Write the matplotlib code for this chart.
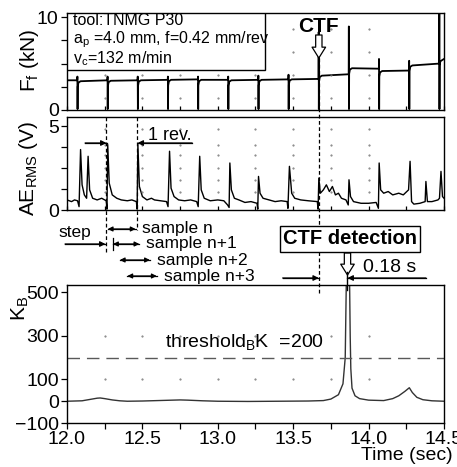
import matplotlib.pyplot as plt
from matplotlib.transforms import blended_transform_factory
from matplotlib.patches import Rectangle

plt.rcParams['font.family'] = ['Liberation Sans', 'DejaVu Sans']
plt.rcParams['mathtext.fontset'] = 'custom'
plt.rcParams['mathtext.rm'] = 'Liberation Sans'
plt.rcParams['mathtext.it'] = 'Liberation Sans:italic'
plt.rcParams['mathtext.bf'] = 'Liberation Sans:bold'

# --- data ---
# revolution marks (s), force level before/after each mark (kN), spike height at the mark
rev_t = [12.07, 12.27, 12.47, 12.67, 12.87, 13.07, 13.27, 13.47, 13.67, 13.87, 14.07, 14.27, 14.47]
seg_start = [3.2, 3.1, 3.15, 3.2, 3.25, 3.25, 3.2, 3.25, 3.3, 3.7, 4.5, 4.2, 4.8, 5.4]
seg_end = [3.2, 3.2, 3.2, 3.25, 3.3, 3.25, 3.25, 3.3, 3.35, 3.85, 4.45, 4.25, 5.0, 5.5]
spike_force = [3.6, 3.6, 3.6, 3.6, 3.6, 3.6, 3.7, 3.8, 8.4, 9.0, 5.5, 5.3, 10.4]

ae_t = [12.00, 12.03, 12.05, 12.07, 12.08, 12.09, 12.10, 12.115, 12.13, 12.14, 12.15, 12.17,
        12.20, 12.23, 12.26, 12.265, 12.27, 12.28, 12.30, 12.33, 12.36, 12.40, 12.43, 12.46,
        12.465, 12.47, 12.48, 12.50, 12.53, 12.56, 12.58, 12.62, 12.66, 12.67, 12.68, 12.69,
        12.71, 12.74, 12.78, 12.82, 12.86, 12.87, 12.88, 12.89, 12.91, 12.95, 13.00, 13.04,
        13.065, 13.075, 13.08, 13.09, 13.11, 13.14, 13.18, 13.22, 13.26, 13.265, 13.27, 13.28,
        13.30, 13.34, 13.38, 13.42, 13.46, 13.465, 13.475, 13.49, 13.51, 13.55, 13.60, 13.66,
        13.665, 13.67, 13.68, 13.70, 13.72, 13.74, 13.76, 13.78, 13.80, 13.82, 13.85, 13.865,
        13.87, 13.88, 13.90, 13.95, 14.00, 14.05, 14.065, 14.07, 14.08, 14.10, 14.13, 14.16,
        14.20, 14.23, 14.265, 14.275, 14.285, 14.30, 14.34, 14.375, 14.38, 14.39, 14.42, 14.46,
        14.47, 14.48, 14.49, 14.50]
ae_v = [0.6, 0.5, 0.6, 0.55, 0.2, 3.6, 1.5, 0.9, 0.7, 3.2, 1.2, 0.7,
        0.6, 0.7, 0.55, 0.05, 3.9, 1.6, 0.9, 0.7, 0.6, 0.55, 0.6, 0.5,
        0.05, 3.9, 1.4, 0.8, 0.6, 0.7, 0.6, 0.55, 0.5, 0.2, 3.5, 1.3,
        0.8, 0.6, 0.55, 0.6, 0.5, 0.2, 3.2, 1.2, 0.7, 0.55, 0.6, 0.55,
        0.3, 0.15, 2.8, 1.2, 0.7, 0.6, 0.45, 0.5, 0.4, 0.05, 2.0, 1.0,
        0.7, 0.6, 0.5, 0.55, 0.5, 0.1, 2.6, 1.0, 0.7, 0.6, 0.55, 0.5,
        0.05, 1.9, 1.0, 1.2, 1.5, 1.1, 1.4, 0.9, 1.0, 0.7, 0.6, 0.3,
        1.8, 0.8, 0.5, 0.4, 0.4, 0.45, 0.1, 2.8, 1.2, 1.0, 1.1, 0.9,
        1.0, 0.9, 1.2, 2.9, 0.5, 0.35, 0.4, 0.5, 1.7, 0.5, 0.5, 0.6,
        0.7, 2.3, 0.8, 0.7]

kb_t = [12.00, 12.10, 12.15, 12.20, 12.22, 12.25, 12.30, 12.35, 12.40, 12.50, 12.60, 12.70,
        12.75, 12.80, 12.90, 13.00, 13.20, 13.40, 13.60, 13.70, 13.75, 13.80, 13.83, 13.845,
        13.852, 13.858, 13.868, 13.874, 13.878, 13.882, 13.89, 13.91, 13.94, 14.00, 14.10, 14.16,
        14.20, 14.24, 14.27, 14.29, 14.32, 14.36, 14.42, 14.50]
kb_v = [0, 2, 8, 14, 15, 12, 6, 2, 0, 1, 3, 5,
        6, 5, 2, 0, -1, 0, 1, 3, 10, 30, 80, 200,
        540, 650, 650, 540, 300, 150, 60, 25, 12, 5, 3, 12,
        25, 45, 62, 40, 18, 7, 2, 0]

threshold = 200
t_rev1, t_rev2 = 12.26, 12.465
t_ctf, t_detect = 13.67, 13.86

# force trace with drop/spike at every revolution mark
force_t, force_v = [12.0], [seg_start[0]]
for i, tb in enumerate(rev_t):
    force_t += [tb - 0.002, tb - 0.001, tb, tb + 0.001, tb + 0.006, tb + 0.02]
    force_v += [seg_end[i], spike_force[i], 0.1, seg_start[i + 1] - 0.6,
                seg_start[i + 1] - 0.15, seg_start[i + 1]]
force_t.append(14.5)
force_v.append(seg_end[-1])

W, H = 457, 467
fig = plt.figure(figsize=(W / 100, H / 100), dpi=100)


def rect(l, t, r, b):
    return [l / W, 1 - b / H, (r - l) / W, (b - t) / H]


def fy(py):
    return 1 - py / H


ax_f = fig.add_axes(rect(67, 13, 444, 110))
ax_ae = fig.add_axes(rect(67, 117, 444, 210))
ax_k = fig.add_axes(rect(67, 285, 444, 423))

qt = [12.25 + 0.25 * i for i in range(9)]
for ax in (ax_f, ax_ae, ax_k):
    ax.set_xlim(12.0, 14.5)
    ax.set_xticks([12.0, 12.5, 13.0, 13.5, 14.0, 14.5])
    ax.set_xticks(qt, minor=True)
    ax.tick_params(labelsize=14, width=0.9, length=4, pad=2)
    ax.tick_params(which='minor', width=0.9, length=4)
    ax.tick_params(axis='y', which='minor', left=False)
    for s in ax.spines.values():
        s.set_linewidth(1.0)

for ax in (ax_f, ax_ae):
    ax.tick_params(axis='x', which='both', direction='in', labelbottom=False, length=3)

dot = dict(ls='none', marker='.', ms=1.0, color='0.45')

# force panel
ax_f.plot(force_t, force_v, color='black', lw=1.3)
ax_f.set_ylim(0, 10.45)
ax_f.set_yticks([0, 2.5, 5, 7.5, 10])
ax_f.set_yticklabels(['0', '', '', '', '10'])
for yv in [1.25, 3.75, 6.25, 8.75]:
    ax_f.plot(qt[:-1], [yv] * 8, **dot)
ax_f.add_patch(Rectangle((0, 0.41), 0.525, 0.59, transform=ax_f.transAxes,
                         fc='white', ec='black', lw=1.0, zorder=3))
ax_f.text(0.015, 0.92, 'tool:TNMG P30', transform=ax_f.transAxes, fontsize=11.5,
          va='center', zorder=4)
ax_f.text(0.015, 0.72, r'a$_\mathrm{p}$ =4.0 mm, f=0.42 mm/rev', transform=ax_f.transAxes,
          fontsize=11.5, va='center', zorder=4)
ax_f.text(0.015, 0.53, r'v$_\mathrm{c}$=132 m/min', transform=ax_f.transAxes,
          fontsize=11.5, va='center', zorder=4)

# AE panel
ax_ae.plot(ae_t, ae_v, color='black', lw=1.0)
ax_ae.set_ylim(0, 5.54)
ax_ae.set_yticks([0, 1.25, 2.5, 3.75, 5])
ax_ae.set_yticklabels(['0', '', '', '', '5'])
for yv in [1.1, 1.8, 2.5, 3.3, 3.9, 4.8]:
    ax_ae.plot(qt[:-1], [yv] * 8, **dot)

# K_B panel
ax_k.plot(kb_t, kb_v, color='0.2', lw=1.0)
ax_k.axhline(threshold, color='0.35', lw=1.0, dashes=(9, 5))
ax_k.set_ylim(-100, 534)
ax_k.set_yticks([-100, 0, 100, 300, 500])
ax_k.tick_params(axis='x', which='both', direction='out')
for yv in [100, 300]:
    ax_k.plot(qt[:-1], [yv] * 8, **dot)
ax_k.text(12.65, 272, r'threshold$_\mathrm{B}$K  =200', fontsize=14, va='center')
fig.text(453 / W, fy(455), 'Time (sec)', fontsize=14, ha='right', va='center')

# y labels
fig.text(30 / W, fy(60), r'F$_\mathrm{f}$ (kN)', rotation=90, fontsize=15, ha='center', va='center')
fig.text(29 / W, fy(168), r'AE$_\mathrm{RMS}$ (V)', rotation=90, fontsize=15, ha='center', va='center')
fig.text(20 / W, fy(308), r'K$_\mathrm{B}$', rotation=90, fontsize=15, ha='center', va='center')

tr = blended_transform_factory(ax_k.transData, fig.transFigure)


def vline(t, y0, y1, **kw):
    fig.add_artist(plt.Line2D([t, t], [fy(y0), fy(y1)], transform=tr, **kw))


def arrow(t0, t1, py, style='-|>', ms=8):
    fig.add_artist(plt.Line2D([t0, t1], [fy(py), fy(py)], transform=tr, color='black', lw=0.9))
    ax_k.annotate('', xy=(t1, fy(py)), xytext=(t0, fy(py)), xycoords=tr, textcoords=tr,
                  arrowprops=dict(arrowstyle=style, color='black', lw=0.9,
                                  mutation_scale=ms, shrinkA=0, shrinkB=0),
                  annotation_clip=False)


def hollow(t, y0, y1):
    ax_k.annotate('', xy=(t, fy(y1)), xytext=(t, fy(y0)), xycoords=tr, textcoords=tr,
                  arrowprops=dict(arrowstyle='simple,head_length=0.6,head_width=0.75,tail_width=0.35',
                                  fc='white', ec='black', lw=0.9, mutation_scale=13,
                                  shrinkA=0, shrinkB=0),
                  annotation_clip=False)


# dashed markers
vline(t_rev1, 117, 253, color='black', lw=0.9, ls=(0, (3, 2)))
vline(t_rev2, 117, 230, color='black', lw=0.9, ls=(0, (3, 2)))
vline(t_ctf, 58, 293, color='black', lw=0.9, ls=(0, (3, 2)))

# CTF marker on top
fig.text(t_ctf, fy(27), 'CTF', transform=tr, fontsize=15, fontweight='bold', ha='center', va='center')
hollow(t_ctf, 35, 58)

# 1 rev.
arrow(12.12, 12.262, 143)
arrow(12.83, 12.468, 143)
fig.text(12.536, fy(135), '1 rev.', transform=tr, fontsize=13, ha='left', va='center')

# step / sample windows
fig.text(12.052, fy(233), 'step', transform=tr, fontsize=12.5, ha='center', va='center')
arrow(11.987, 12.255, 244)
sample_rows = [(12.27, 12.455, 229, 'sample n'),
               (12.305, 12.48, 244, 'sample n+1'),
               (12.35, 12.55, 260, 'sample n+2'),
               (12.40, 12.595, 276, 'sample n+3')]
for t0, t1, py, lab in sample_rows:
    arrow(t0, t1, py, style='<|-|>', ms=7)
    fig.text(t1 + 0.045, fy(py), lab, transform=tr, fontsize=12.5, ha='left', va='center')
vline(12.305, 238, 250, color='black', lw=0.9)

# CTF detection
fig.text(13.875, fy(239), 'CTF detection', transform=tr, fontsize=14.5, fontweight='bold',
         ha='center', va='center',
         bbox=dict(boxstyle='square,pad=0.15', fc='white', ec='black', lw=1.0))
hollow(t_detect, 253, 275)
vline(t_detect, 272, 290, color='black', lw=1.0)
arrow(13.43, t_ctf, 278)
arrow(14.38, t_detect, 278)
fig.text(13.96, fy(267), '0.18 s', transform=tr, fontsize=14, ha='left', va='center')

fig.savefig('out.png', dpi=100)
